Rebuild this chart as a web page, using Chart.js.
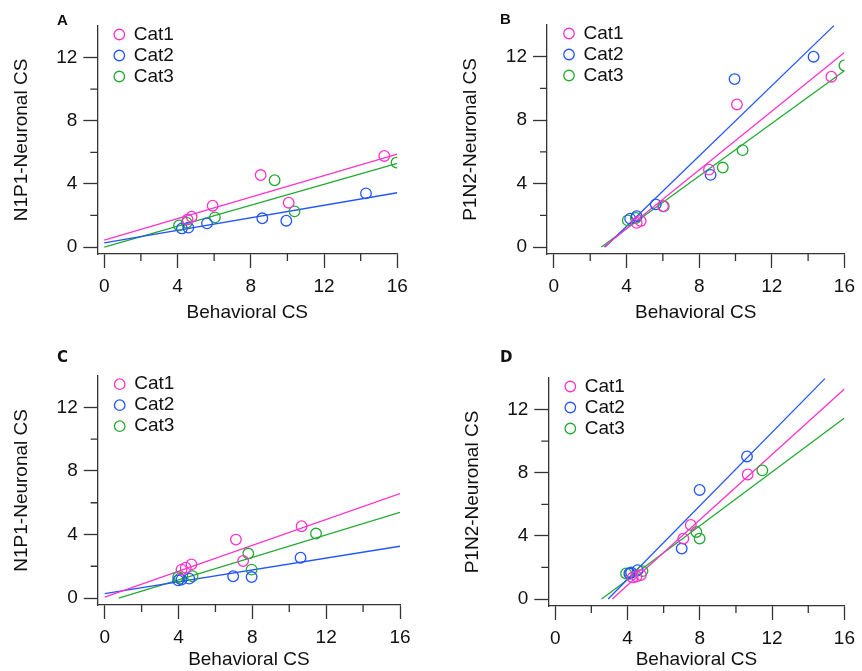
<!DOCTYPE html>
<html>
    <head>
        <meta charset="utf-8">
        <script src="https://cdn.jsdelivr.net/npm/chart.js@4.4.0/dist/chart.umd.min.js"></script>
        <style>
            body { margin: 0; background: #fff; width: 862px; height: 671px; position: relative; overflow: hidden; }
            .panel { position: absolute; }
            .tag { position: absolute; font-weight: bold; color: #111; line-height: 1; }
        </style>
    </head>
    <body>
        <div class="panel" style="left:0;top:0;width:431px;height:330px;"><canvas id="pA" width="431" height="330"></canvas></div>
        <div class="panel" style="left:431px;top:0;width:431px;height:330px;"><canvas id="pB" width="431" height="330"></canvas></div>
        <div class="panel" style="left:0;top:330px;width:431px;height:341px;"><canvas id="pC" width="431" height="341"></canvas></div>
        <div class="panel" style="left:431px;top:330px;width:431px;height:341px;"><canvas id="pD" width="431" height="341"></canvas></div>
        <div class="tag" style="left:57px;top:12px;font-family:'Liberation Sans',Arial;font-size:15px;">A</div>
        <div class="tag" style="left:500px;top:11px;font-family:'Liberation Sans',Arial;font-size:15px;">B</div>
        <div class="tag" style="left:57px;top:350px;font-family:'DejaVu Sans';font-size:15px;">C</div>
        <div class="tag" style="left:500px;top:350px;font-family:'DejaVu Sans';font-size:15px;">D</div>
        <script>
            var categories = ["Cat1", "Cat2", "Cat3"];
            var colors = ["#ff33cc", "#2255ff", "#22aa33"];
            var xTitle = "Behavioral CS";
            var xTicks = [0, 2, 4, 6, 8, 10, 12, 14, 16];
            var yTicks = [0, 2, 4, 6, 8, 10, 12];

            // A: N1P1 vs behavioral
            var aX = [[15.29, 8.54, 10.07, 5.92, 4.77, 4.55],
                      [14.29, 8.63, 9.94, 5.61, 4.24, 4.59],
                      [15.96, 9.30, 10.39, 6.04, 4.08, 4.50]];
            var aY = [[5.77, 4.56, 2.81, 2.62, 1.92, 1.75],
                      [3.40, 1.82, 1.67, 1.50, 1.18, 1.23],
                      [5.35, 4.23, 2.26, 1.88, 1.37, 1.54]];
            var aFit = [[0, 0.44, 16, 5.89], [0, 0.27, 16, 3.44], [0, 0, 16, 5.30]];

            // B: P1N2 vs behavioral
            var bX = [[15.28, 10.08, 8.54, 6.01, 4.78, 4.56],
                      [14.30, 9.95, 8.63, 5.61, 4.20, 4.56],
                      [16.00, 10.39, 9.30, 6.05, 4.07, 4.51]];
            var bY = [[10.74, 8.99, 4.88, 2.57, 1.64, 1.52],
                      [12.00, 10.59, 4.55, 2.69, 1.79, 1.94],
                      [11.45, 6.11, 5.01, 2.57, 1.68, 1.83]];
            var bFit = [[2.75, 0, 16, 12.27], [2.82, 0, 15.42, 13.96], [2.61, 0, 16, 11.12]];

            // C: N1P1 vs behavioral
            var cX = [[10.67, 7.11, 7.50, 4.70, 4.39, 4.16],
                      [10.61, 6.96, 7.96, 4.58, 3.98, 4.16],
                      [11.45, 7.78, 7.96, 4.76, 4.07, 3.98]];
            var cY = [[4.52, 3.68, 2.33, 2.12, 1.91, 1.79],
                      [2.54, 1.37, 1.32, 1.22, 1.11, 1.16],
                      [4.06, 2.80, 1.79, 1.37, 1.22, 1.32]];
            var cFit = [[0, 0.06, 16, 6.58], [0, 0.27, 16, 3.26], [0.76, 0, 16, 5.40]];

            // D: P1N2 vs behavioral
            var dX = [[10.65, 7.50, 7.09, 4.74, 4.29, 4.50],
                      [10.61, 7.99, 7.00, 4.56, 4.10, 4.20],
                      [11.46, 7.81, 7.99, 4.83, 3.92, 4.14]];
            var dY = [[7.89, 4.69, 3.83, 1.52, 1.37, 1.43],
                      [9.03, 6.91, 3.20, 1.83, 1.62, 1.68],
                      [8.15, 4.25, 3.83, 1.77, 1.62, 1.62]];
            var dFit = [[3.16, 0, 16, 13.30], [2.93, 0, 14.92, 13.96], [2.57, 0, 16, 11.47]];

            var axisColor = "#333";
            var fontFam = "'Liberation Sans', Arial, sans-serif";
            var fontSize = 19;

            // short ticks at the unlabeled positions
            var minorTicks = {
                id: "minorTicks",
                afterDraw: function(chart) {
                    var ctx = chart.ctx, area = chart.chartArea;
                    ctx.save();
                    ctx.strokeStyle = axisColor;
                    ctx.lineWidth = 1.3;
                    ctx.beginPath();
                    chart.scales.x.ticks.forEach(function(t) {
                        if (t.value % 4 === 0) return;
                        var px = chart.scales.x.getPixelForValue(t.value);
                        ctx.moveTo(px, area.bottom);
                        ctx.lineTo(px, area.bottom + 7);
                    });
                    chart.scales.y.ticks.forEach(function(t) {
                        if (t.value % 4 === 0) return;
                        var py = chart.scales.y.getPixelForValue(t.value);
                        ctx.moveTo(area.left, py);
                        ctx.lineTo(area.left - 7, py);
                    });
                    ctx.stroke();
                    ctx.restore();
                }
            };

            // legend sits in the upper left corner of the plot area
            var legendShift = {
                id: "legendShift",
                afterLayout: function(chart) {
                    var lg = chart.legend, area = chart.chartArea;
                    var h = lg.bottom - lg.top;
                    lg.left = area.left + 15; lg.right = lg.left + lg.width;
                    lg.top = area.top - 3; lg.bottom = lg.top + h;
                }
            };

            function makePanel(id, xs, ys, fits, yLabel, box) {
                var datasets = [];
                categories.forEach(function(name, i) {
                    datasets.push({
                        label: name,
                        data: xs[i].map(function(x, j) { return { x: x, y: ys[i][j] }; }),
                        borderColor: colors[i],
                        backgroundColor: "transparent",
                        borderWidth: 1.3,
                        pointRadius: 5.3,
                        pointStyle: "circle",
                        showLine: false
                    });
                });
                categories.forEach(function(name, i) {
                    var f = fits[i];
                    datasets.push({
                        label: "",
                        data: [{ x: f[0], y: f[1] }, { x: f[2], y: f[3] }],
                        borderColor: colors[i],
                        backgroundColor: colors[i],
                        borderWidth: 1.3,
                        pointRadius: 0,
                        showLine: true
                    });
                });
                var H = document.getElementById(id).height;
                var font = { family: fontFam, size: fontSize };
                var tickColor = function(c) { return c.tick && c.tick.value % 4 === 0 ? axisColor : "transparent"; };
                var label4 = function(v) { return v % 4 === 0 ? v : ""; };
                return new Chart(document.getElementById(id).getContext("2d"), {
                    type: "scatter",
                    data: { datasets: datasets },
                    plugins: [minorTicks, legendShift],
                    options: {
                        responsive: false,
                        animation: false,
                        layout: { padding: { left: 0, top: box.top, right: box.right, bottom: 0 } },
                        plugins: {
                            tooltip: { enabled: false },
                            legend: {
                                position: "chartArea",
                                align: "start",
                                labels: {
                                    filter: function(item) { return item.text !== ""; },
                                    usePointStyle: true,
                                    boxWidth: 10,
                                    boxHeight: 7.4,
                                    padding: 2,
                                    color: "#111",
                                    font: font
                                }
                            }
                        },
                        scales: {
                            x: {
                                min: -0.38, max: 16,
                                afterBuildTicks: function(s) { s.ticks = xTicks.map(function(v) { return { value: v }; }); },
                                afterFit: function(s) { s.height = H - box.bottom; },
                                border: { color: axisColor, width: 1.3 },
                                grid: { drawOnChartArea: false, tickLength: 14, tickWidth: 1.3, tickColor: tickColor },
                                ticks: { autoSkip: false, maxRotation: 0, padding: 7, color: "#111", font: font, callback: label4 },
                                title: { display: true, text: xTitle, color: "#111", font: font, padding: { top: 0, bottom: box.xt } }
                            },
                            y: {
                                min: -0.44, max: 14,
                                afterBuildTicks: function(s) { s.ticks = yTicks.map(function(v) { return { value: v }; }); },
                                afterFit: function(s) { s.width = box.left; },
                                border: { color: axisColor, width: 1.3 },
                                grid: { drawOnChartArea: false, tickLength: 14, tickWidth: 1.3, tickColor: tickColor },
                                ticks: { autoSkip: false, padding: 6, color: "#111", font: font, callback: label4 },
                                title: { display: true, text: yLabel, color: "#111", font: font, padding: { top: box.yt, bottom: 0 } }
                            }
                        }
                    }
                });
            }

            makePanel("pA", aX, aY, aFit, "N1P1-Neuronal CS", { left: 97.3, top: 26, right: 33.7, bottom: 254, yt: 10.5, xt: 6 });
            makePanel("pB", bX, bY, bFit, "P1N2-Neuronal CS", { left: 116, top: 25, right: 13.7, bottom: 254, yt: 28.5, xt: 6 });
            makePanel("pC", cX, cY, cFit, "N1P1-Neuronal CS", { left: 97.7, top: 45.7, right: 31, bottom: 275, yt: 10.5, xt: 0 });
            makePanel("pD", dX, dY, dFit, "P1N2-Neuronal CS", { left: 117.3, top: 48, right: 11.7, bottom: 276, yt: 30.5, xt: 0 });
        </script>
    </body>
</html>
